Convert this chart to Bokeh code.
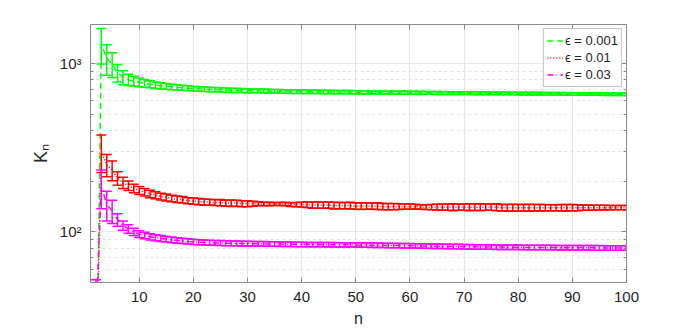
from bokeh.plotting import figure
from bokeh.models import (FixedTicker, LogAxis, LinearAxis, Legend, LegendItem, Range1d)
from bokeh.embed import file_html
from bokeh.resources import INLINE

n = list(range(1, 101))

green_mean = [1, 5, 1300, 1070, 990, 880, 825, 800, 785, 772,
              760, 751, 743, 736, 730, 725, 720, 716, 712, 708,
              705, 702, 700, 698, 696, 694, 692, 691, 690, 688,
              687, 686, 685, 684, 683, 682, 681, 680, 680, 679,
              678, 678, 677, 676, 676, 675, 675, 674, 674, 673,
              673, 672, 672, 672, 671, 671, 671, 670, 670, 669,
              669, 668, 668, 668, 667, 667, 666, 666, 666, 665,
              665, 664, 664, 664, 663, 663, 663, 662, 662, 662,
              661, 661, 661, 660, 660, 660, 659, 659, 659, 658,
              658, 658, 657, 657, 657, 656, 656, 656, 655, 655]
green_err = [0, 2, 310, 220, 165, 105, 80, 62, 52, 45,
             40, 36, 33, 31, 29, 27, 26, 25, 24, 23,
             22, 22, 21, 21, 20, 20, 20, 19, 19, 19,
             18, 18, 18, 18, 17, 17, 17, 17, 17, 16,
             16, 16, 16, 16, 16, 15, 15, 15, 15, 15,
             15, 15, 15, 14, 14, 14, 14, 14, 14, 14,
             14, 14, 13, 13, 13, 13, 13, 13, 13, 13,
             13, 13, 13, 12, 12, 12, 12, 12, 12, 12,
             12, 12, 12, 12, 12, 12, 11, 11, 11, 11,
             11, 11, 11, 11, 11, 11, 11, 11, 11, 11]

red_mean = [1, 12, 300, 250, 232, 208, 196, 188, 181, 176,
            172, 168, 165, 162, 160, 158, 156, 155, 153, 152,
            151, 150, 150, 149, 149, 148, 148, 148, 147, 147,
            147, 147, 146, 146, 146, 146, 146, 145, 145, 145,
            145, 144, 144, 144, 144, 143, 143, 143, 143, 142,
            142, 142, 142, 142, 141, 141, 141, 141, 141, 141,
            141, 140, 140, 140, 140, 140, 140, 140, 140, 140,
            140, 140, 140, 140, 140, 140, 139, 139, 139, 139,
            139, 139, 139, 139, 139, 139, 139, 139, 139, 139,
            139, 139, 139, 139, 139, 139, 139, 139, 139, 139]
red_err = [0, 5, 75, 38, 31, 19, 15, 12, 10.5, 9.5,
           9, 8.5, 8, 7.5, 7.5, 7, 7, 7, 6.5, 6.5,
           6.5, 6.5, 6, 6, 6.5, 6, 6.5, 6, 6, 6,
           5, 4, 3.5, 3.5, 3, 3, 3.5, 3.5, 4, 4.5,
           5.5, 6, 6, 6, 6, 6.5, 6, 6, 6.5, 6,
           6.5, 6, 6, 6.5, 6, 6, 6, 5.5, 5, 5,
           4.5, 4, 4.5, 5, 5.5, 6, 6, 6.5, 6, 6,
           6.5, 6, 6.5, 6, 6, 6.5, 6, 6, 6.5, 6,
           6, 6.5, 6, 6, 6, 5.5, 5.5, 6, 6, 6,
           5.5, 5, 5, 4.5, 4.5, 4.5, 4, 4, 4, 4]

mag_mean = [1, 30, 185, 145, 133, 118, 109, 104, 100, 97,
            95, 93.5, 92.3, 91.3, 90.4, 89.6, 88.9, 88.3, 87.7, 87.2,
            86.8, 86.5, 86.2, 86.0, 85.8, 85.6, 85.5, 85.3, 85.2, 85.1,
            85.0, 84.9, 84.8, 84.7, 84.6, 84.5, 84.4, 84.3, 84.2, 84.1,
            84.0, 84.0, 83.9, 83.9, 83.8, 83.8, 83.7, 83.7, 83.6, 83.6,
            83.5, 83.4, 83.3, 83.2, 83.1, 83.0, 82.9, 82.8, 82.7, 82.6,
            82.5, 82.4, 82.3, 82.2, 82.1, 82.0, 81.9, 81.8, 81.7, 81.6,
            81.5, 81.4, 81.3, 81.3, 81.2, 81.1, 81.1, 81.0, 80.9, 80.9,
            80.8, 80.8, 80.7, 80.7, 80.6, 80.6, 80.5, 80.5, 80.5, 80.4,
            80.4, 80.4, 80.3, 80.3, 80.3, 80.2, 80.2, 80.2, 80.2, 80.2]
mag_err = [0, 22, 48, 29, 21, 10, 7, 6, 5, 4.5,
           4.2, 4, 3.8, 3.6, 3.5, 3.4, 3.3, 3.2, 3.2, 3.1,
           3, 3, 3, 2.9, 2.9, 2.9, 2.8, 2.8, 2.8, 2.8,
           2.7, 2.7, 2.7, 2.7, 2.6, 2.6, 2.6, 2.6, 2.6, 2.6,
           2.5, 2.5, 2.5, 2.5, 2.5, 2.5, 2.5, 2.5, 2.5, 2.5,
           2.5, 2.5, 2.5, 2.5, 2.5, 2.5, 2.5, 2.5, 2.5, 2.5,
           2.5, 2.5, 2.5, 2.5, 2.5, 2.5, 2.5, 2.5, 2.5, 2.5,
           2.5, 2.5, 2.5, 2.5, 2.5, 2.5, 2.5, 2.5, 2.5, 2.5,
           2.5, 2.5, 2.5, 2.5, 2.5, 2.5, 2.5, 2.5, 2.5, 2.5,
           2.5, 2.5, 2.5, 2.5, 2.5, 2.5, 2.5, 2.5, 2.5, 2.5]

labels = ["\u03f5 = 0.001", "\u03f5 = 0.01", "\u03f5 = 0.03"]
colors = ["#00ff00", "#ff0000", "#ff00ff"]
dashes = ["6 4", "1 2", "6 3 1 3"]

x_ticks = [10, 20, 30, 40, 50, 60, 70, 80, 90, 100]
y_ticks = [100, 1000]
y_minor = [60, 70, 80, 90, 200, 300, 400, 500, 600, 700, 800, 900]
y_tick_labels = {100: "10\u00b2", 1000: "10\u00b3"}

FONT = "Liberation Sans"
TXT = "#262626"
AX = "#8a8a8a"

p = figure(frame_width=536, frame_height=258, y_axis_type="log",
           x_range=Range1d(1, 100), y_range=Range1d(50, 1700),
           output_backend="svg", toolbar_location=None,
           min_border_left=90, min_border_top=24, min_border_right=66,
           min_border_bottom=48, background_fill_color="white",
           border_fill_color="white", outline_line_color=None)

series = [(green_mean, green_err), (red_mean, red_err), (mag_mean, mag_err)]
items = []
for (m, e), c, d, lab in zip(series, colors, dashes, labels):
    up = [a + b for a, b in zip(m, e)]
    lo = [a - b for a, b in zip(m, e)]
    p.segment(x0=n, y0=lo, x1=n, y1=up, line_color=c, line_width=1.5)
    p.scatter(x=n, y=up, marker="dash", size=10, line_color=c, line_width=1.5)
    p.scatter(x=n, y=lo, marker="dash", size=10, line_color=c, line_width=1.5)
    r = p.line(n, m, line_color=c, line_width=1.5, line_dash=d)
    items.append(LegendItem(label=lab, renderers=[r]))

legend = Legend(items=items, location="top_right", label_text_font=FONT,
                label_text_font_size="13px", label_text_color=TXT,
                glyph_width=16, glyph_height=17, label_height=17,
                spacing=0, padding=3, margin=4, label_standoff=2,
                border_line_color="#8a8a8a", background_fill_alpha=1)
p.add_layout(legend, "center")

# axes
xa = p.xaxis[0]
xa.ticker = FixedTicker(ticks=x_ticks)
xa.axis_label = "n"
ya = p.yaxis[0]
ya.ticker = FixedTicker(ticks=y_ticks, minor_ticks=y_minor)
ya.major_label_overrides = y_tick_labels
ya.axis_label = "K\u2099"

for ax in (xa, ya):
    ax.axis_line_color = AX
    ax.major_tick_line_color = AX
    ax.minor_tick_line_color = AX
    ax.major_tick_in = 5
    ax.major_tick_out = 0
    ax.minor_tick_in = 3
    ax.minor_tick_out = 0
    ax.major_label_text_font = FONT
    ax.major_label_text_color = TXT
    ax.axis_label_text_font = FONT
    ax.axis_label_text_font_style = "normal"
    ax.axis_label_text_color = TXT
xa.major_label_text_font_size = "15px"
xa.major_label_standoff = 9
xa.axis_label_text_font_size = "16px"
xa.axis_label_standoff = 5
ya.major_label_text_font_size = "15px"
ya.major_label_standoff = 9
ya.axis_label_text_font_size = "18px"
ya.axis_label_standoff = 6

top = LinearAxis(ticker=FixedTicker(ticks=x_ticks), major_label_text_font_size="1px",
                 major_label_text_color=None,
                 axis_line_color=AX, major_tick_line_color=AX, major_tick_in=5,
                 major_tick_out=0, minor_tick_line_color=None, major_label_standoff=0)
right = LogAxis(ticker=FixedTicker(ticks=y_ticks, minor_ticks=y_minor),
                major_label_text_font_size="1px", major_label_text_color=None,
                axis_line_color=AX,
                major_tick_line_color=AX, minor_tick_line_color=AX,
                major_tick_in=5, major_tick_out=0, minor_tick_in=3, minor_tick_out=0,
                major_label_standoff=0)
p.add_layout(top, "above")
p.add_layout(right, "right")

p.xgrid.ticker = FixedTicker(ticks=x_ticks)
p.xgrid.grid_line_color = "#e8e8e8"
p.ygrid.ticker = FixedTicker(ticks=y_ticks, minor_ticks=y_minor)
p.ygrid.grid_line_color = "#e8e8e8"
p.ygrid.minor_grid_line_color = "#e4e4e4"
p.ygrid.minor_grid_line_dash = "3 3"

open("out.html", "w").write(file_html(p, INLINE))
